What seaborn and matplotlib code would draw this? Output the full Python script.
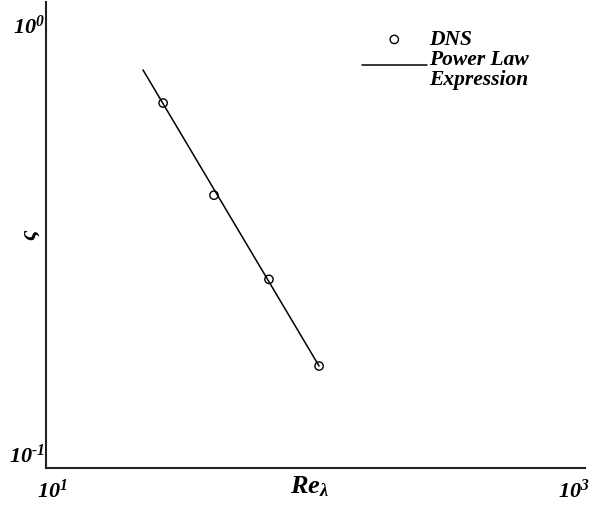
import matplotlib
matplotlib.use("Agg")
import matplotlib.pyplot as plt
import matplotlib.transforms as mtransforms
from matplotlib.ticker import NullLocator, FixedLocator
import seaborn as sns
import pandas as pd

# ---- data ----
re_dns = [27.2, 42.0, 67.2, 103.1]
zeta_dns = [0.607, 0.385, 0.254, 0.1655]
re_fit = [22.9, 103.1]
zeta_fit = [0.715, 0.1655]
x_ticks = [10, 1000]
x_ticklabels = [r"$10^{1}$", r"$10^{3}$"]
y_ticks = [0.1, 1.0]
y_ticklabels = [r"$10^{\text{-}1}$", r"$10^{0}$"]

sns.set_style("white")
plt.rcParams["font.family"] = ["Liberation Serif", "DejaVu Serif"]
plt.rcParams["font.weight"] = "bold"
plt.rcParams["font.style"] = "italic"
plt.rcParams["text.color"] = "black"
plt.rcParams["axes.labelcolor"] = "black"
plt.rcParams["xtick.color"] = "black"
plt.rcParams["ytick.color"] = "black"
plt.rcParams["mathtext.fontset"] = "custom"
plt.rcParams["mathtext.rm"] = "Liberation Serif:bold:italic"
plt.rcParams["mathtext.it"] = "Liberation Serif:bold:italic"
plt.rcParams["mathtext.bf"] = "Liberation Serif:bold:italic"

W, H = 593, 508
fig = plt.figure(figsize=(W / 100, H / 100), dpi=100)
ax = fig.add_axes([46 / W, 1 - 468 / H, (585 - 46) / W, (468 - 2) / H])

df_dns = pd.DataFrame({"Re": re_dns, "zeta": zeta_dns})
df_fit = pd.DataFrame({"Re": re_fit, "zeta": zeta_fit})

sns.scatterplot(data=df_dns, x="Re", y="zeta", ax=ax, marker="o", s=36,
                fc="none", ec="black", linewidth=1.0, label="DNS", zorder=3)
sns.lineplot(data=df_fit, x="Re", y="zeta", ax=ax, color="black", lw=1.1,
             label="Power Law\nExpression", zorder=2)

ax.set_xscale("log")
ax.set_yscale("log")
ax.set_xlim(10, 1000)
ax.set_ylim(0.1, 1.0)

ax.xaxis.set_major_locator(FixedLocator(x_ticks))
ax.yaxis.set_major_locator(FixedLocator(y_ticks))
ax.xaxis.set_minor_locator(NullLocator())
ax.yaxis.set_minor_locator(NullLocator())
ax.set_xticklabels(x_ticklabels)
ax.set_yticklabels(y_ticklabels)
ax.tick_params(axis="both", length=0, labelsize=16, colors="black")
ax.tick_params(axis="x", pad=8)
ax.tick_params(axis="y", pad=1)

# individual tick label placement like the reference
ylabs = ax.get_yticklabels()
ylabs[0].set_va("bottom")
ylabs[1].set_va("top")
ylabs[1].set_transform(ylabs[1].get_transform() +
                       mtransforms.ScaledTranslation(0, -14 / 100, fig.dpi_scale_trans))
xlabs = ax.get_xticklabels()
xlabs[0].set_transform(xlabs[0].get_transform() +
                       mtransforms.ScaledTranslation(6 / 100, 0, fig.dpi_scale_trans))
xlabs[1].set_transform(xlabs[1].get_transform() +
                       mtransforms.ScaledTranslation(-11 / 100, 0, fig.dpi_scale_trans))

for sp in ["top", "right"]:
    ax.spines[sp].set_visible(False)
for sp in ["left", "bottom"]:
    ax.spines[sp].set_color("#222222")
    ax.spines[sp].set_linewidth(1.5)

ax.set_xlabel(r"$Re_{\lambda}$", fontsize=19)
ax.xaxis.set_label_coords((310 - 46) / 539, -(474 - 468) / 466)
ax.set_ylabel("ς", fontsize=17, fontweight="bold", fontstyle="italic")
ax.yaxis.label.set_ha("center")
ax.yaxis.label.set_va("center")
ax.yaxis.set_label_coords((30 - 46) / 539, (468 - 235) / 466)

leg = ax.legend(loc="upper left", bbox_to_anchor=(362 / W, 1 - 30 / H),
                bbox_transform=fig.transFigure, frameon=False,
                handlelength=3.0, handletextpad=0.1, labelspacing=0.0,
                borderpad=0, borderaxespad=0,
                prop={"family": "Liberation Serif", "weight": "bold",
                      "style": "italic", "size": 15.5})
for t in leg.get_texts():
    t.set_linespacing(1.0)
    t.set_color("black")
for ln in leg.get_lines():
    ln.set_transform(ln.get_transform() +
                     mtransforms.ScaledTranslation(0, 5 / 100, fig.dpi_scale_trans))
for h in leg.legend_handles:
    if hasattr(h, "get_offsets") and not hasattr(h, "get_xdata"):
        h.set_transform(h.get_transform())

fig.savefig("out.png", dpi=100)
